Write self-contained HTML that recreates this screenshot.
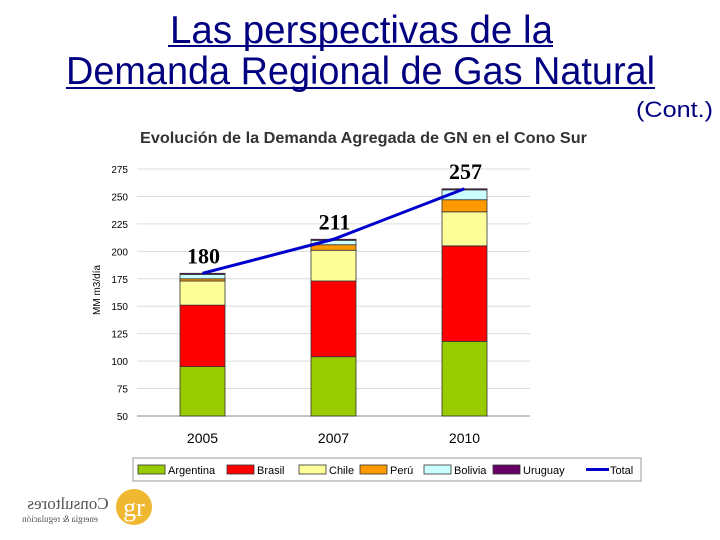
<!DOCTYPE html>
<html><head><meta charset="utf-8"><style>
html,body{margin:0;padding:0;background:#fff;}
svg{display:block;font-family:"Liberation Sans",sans-serif;}
</style></head><body>
<svg id="c" width="720" height="540" viewBox="0 0 720 540">
<g fill="#000080">
<text x="170" y="43" font-size="39" textLength="383" lengthAdjust="spacingAndGlyphs">Las perspectivas de la</text>
<rect x="168" y="45" width="385" height="2"/>
<text x="66" y="84" font-size="39" textLength="589" lengthAdjust="spacingAndGlyphs">Demanda Regional de Gas Natural</text>
<rect x="66" y="87" width="589" height="2"/>
<text x="636" y="117" font-size="22" textLength="77" lengthAdjust="spacingAndGlyphs">(Cont.)</text>
</g>
<text x="140" y="143" font-size="16" font-weight="bold" fill="#333" textLength="447" lengthAdjust="spacingAndGlyphs">Evolución de la Demanda Agregada de GN en el Cono Sur</text>
<g id="grid"></g><g id="bars"></g><g id="line"></g><g id="labels"></g>
<text transform="translate(100,290) rotate(-90)" font-size="10" text-anchor="middle" fill="#000">MM m3/día</text>
<g>
<rect x="133" y="458" width="508" height="23" fill="#fff" stroke="#999"/>
<g id="leg"></g>
</g>
<g>
<circle cx="134" cy="507" r="18" fill="#f0b830"/>
<text x="134" y="516" font-size="26" fill="#fff" text-anchor="middle" font-family="Liberation Serif,serif">gr</text>
<text x="68" y="509" font-size="17" fill="#555" text-anchor="middle" font-family="Liberation Serif,serif" transform="translate(136,0) scale(-1,1)">Consultores</text>
<text x="60" y="522" font-size="9" fill="#555" text-anchor="middle" font-family="Liberation Serif,serif" transform="translate(120,0) scale(-1,1)">energía &amp; regulación</text>
</g>
</svg>
<script>
const years=["2005","2007","2010"];
const series=["Argentina","Brasil","Chile","Perú","Bolivia","Uruguay"];
const argentina=[95,104,118];
const brasil=[56,69,87];
const chile=[22,28,31];
const peru=[2,5,11];
const bolivia=[4,4,9];
const uruguay=[1,1,1];
const totals=[180,211,257];
const yTicks=[50,75,100,125,150,175,200,225,250,275];
const colors=["#99cc00","#ff0000","#ffff99","#ff9900","#ccffff","#660066"];
const NS="http://www.w3.org/2000/svg";
function el(t,a,p){const e=document.createElementNS(NS,t);for(const k in a)e.setAttribute(k,a[k]);document.getElementById(p).appendChild(e);return e;}
const x0=137,x1=530,yMin=50,yMax=275,py0=416,py1=169;
const y=v=>py0-(v-yMin)*(py0-py1)/(yMax-yMin);
const band=(x1-x0)/years.length;
const xc=i=>x0+band*(i+0.5);
const bw=45;
yTicks.forEach(t=>{
 const l=el('line',{x1:x0,x2:x1,y1:y(t),y2:y(t),stroke:t===50?'#888':'#ddd'},'grid');
 
 
 const tx=el('text',{x:x0-9,y:y(t)+4,'font-size':10,'text-anchor':'end'},'grid');tx.textContent=t;
 
 
});
years.forEach((yr,i)=>{
 const tx=el('text',{x:xc(i),y:443,'font-size':14,'text-anchor':'middle'},'grid');tx.textContent=yr;
 
 
});
const data=[argentina,brasil,chile,peru,bolivia,uruguay];
years.forEach((yr,i)=>{
 let cum=0;
 data.forEach((s,k)=>{
  cum+=s[i];const top=cum;const b=k===0?yMin:cum-s[i];
  const r=el('rect',{x:xc(i)-bw/2,y:y(top),width:bw,height:y(b)-y(top),fill:colors[k],stroke:'#333','stroke-width':0.8},'bars');
  
  
 });
});
const pts=totals.map((t,i)=>(xc(i))+','+y(t)).join(' ');
const pl=el('polyline',{points:pts,fill:'none',stroke:'#0000cc','stroke-width':3},'line');


totals.forEach((t,i)=>{
 const tx=el('text',{x:xc(i)+1,y:y(t)-10,'font-size':22,'font-weight':'bold','text-anchor':'middle','font-family':'Liberation Serif,serif'},'labels');tx.textContent=t;
 
 
});
const legX=[138,227,299,360,424,493,586];
series.forEach((s,k)=>{
 const r=el('rect',{x:legX[k],y:465,width:27,height:9,fill:colors[k],stroke:'#333','stroke-width':0.8},'leg');
 
 
 const tx=el('text',{x:legX[k]+30,y:474,'font-size':11},'leg');tx.textContent=s;
 
 
});
const ll=el('line',{x1:legX[6],x2:legX[6]+23,y1:469.5,y2:469.5,stroke:'#0000cc','stroke-width':3},'leg');


const lt=el('text',{x:legX[6]+24,y:474,'font-size':11},'leg');lt.textContent='Total';


</script>
</body></html>
